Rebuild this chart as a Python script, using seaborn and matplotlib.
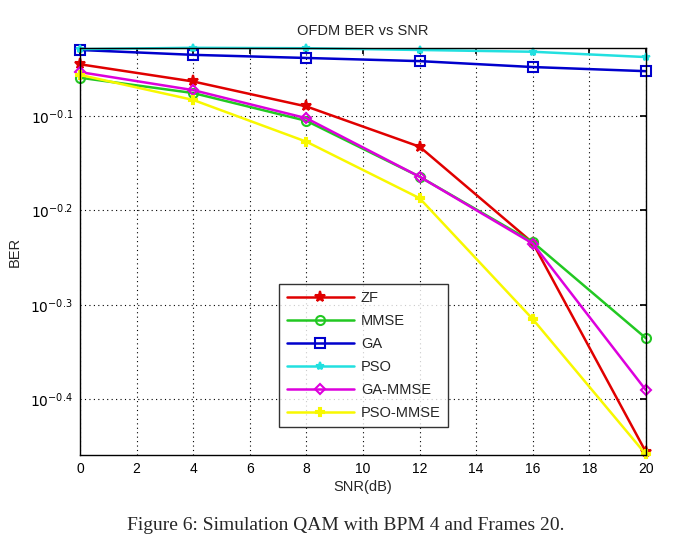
import numpy as np
import pandas as pd
import matplotlib
matplotlib.use("Agg")
import matplotlib.pyplot as plt
import seaborn as sns
from matplotlib.ticker import FixedLocator, NullLocator, FixedFormatter

snr = [0, 4, 8, 12, 16, 20]
zf = [0.901, 0.864, 0.813, 0.737, 0.583, 0.350]
mmse = [0.872, 0.840, 0.785, 0.685, 0.584, 0.462]
ga = [0.933, 0.922, 0.915, 0.908, 0.895, 0.886]
pso = [0.935, 0.938, 0.937, 0.933, 0.929, 0.917]
ga_mmse = [0.884, 0.846, 0.790, 0.685, 0.582, 0.407]
pso_mmse = [0.878, 0.826, 0.746, 0.650, 0.484, 0.348]

series = {"ZF": zf, "MMSE": mmse, "GA": ga, "PSO": pso,
          "GA-MMSE": ga_mmse, "PSO-MMSE": pso_mmse}
y_tick_exp = [-0.4, -0.3, -0.2, -0.1]
x_ticks = list(range(0, 21, 2))

rows = []
for name, vals in series.items():
    for x, v in zip(snr, vals):
        rows.append({"SNR": x, "BER": v, "Method": name})
df = pd.DataFrame(rows)

sns.set_theme(style="white")
plt.rcParams['font.family'] = ['Liberation Sans', 'DejaVu Sans']

colors = {"ZF": "#e00000", "MMSE": "#22c822", "GA": "#0000cc", "PSO": "#22e0e0",
          "GA-MMSE": "#dd00dd", "PSO-MMSE": "#f8f800"}
markers = {"ZF": "*", "MMSE": "o", "GA": "s", "PSO": "*", "GA-MMSE": "D", "PSO-MMSE": "P"}
mfc = {"ZF": "#e00000", "MMSE": "none", "GA": "none", "PSO": "#22e0e0",
       "GA-MMSE": "none", "PSO-MMSE": "#f8f800"}
msize = {"ZF": 8, "MMSE": 6.5, "GA": 7, "PSO": 6, "GA-MMSE": 5.5, "PSO-MMSE": 6}

fig = plt.figure(figsize=(6.91, 5.56), dpi=100)
ax = fig.add_axes([0.1158, 0.1817, 0.819, 0.732])

for name in series:
    sub = df[df["Method"] == name]
    sns.lineplot(data=sub, x="SNR", y="BER", ax=ax, color=colors[name],
                 marker=markers[name], markersize=msize[name],
                 markerfacecolor=mfc[name], markeredgecolor=colors[name],
                 markeredgewidth=1.5, linewidth=1.8, label=name, errorbar=None,
                 clip_on=False)

ax.set_yscale("log")
ax.set_xlim(0, 20)
ax.set_ylim(10 ** -0.459, 10 ** -0.028)
ax.yaxis.set_major_locator(FixedLocator([10 ** e for e in y_tick_exp]))
ax.yaxis.set_major_formatter(FixedFormatter([r"$10^{%g}$" % e for e in y_tick_exp]))
ax.yaxis.set_minor_locator(NullLocator())
ax.set_xticks(x_ticks)
ax.set_xticklabels([str(t) for t in x_ticks])

ax.grid(True, color="black", linestyle=(0, (1, 3)), linewidth=0.8)
for s in ax.spines.values():
    s.set_color("black")
    s.set_linewidth(1)
ax.tick_params(direction="in", length=4, top=True, right=True, labelsize=10,
               colors="black", pad=5)

ax.set_title("OFDM BER vs SNR", fontsize=10.5, pad=9)
ax.set_xlabel("SNR(dB)", fontsize=10.5, labelpad=3)
ax.set_ylabel("BER", fontsize=10.5, labelpad=6)

leg = ax.legend(loc="lower left", bbox_to_anchor=(0.352, 0.068), fontsize=10.5,
                frameon=True, fancybox=False, borderpad=0.5, labelspacing=0.62,
                handlelength=4.6, handletextpad=0.5, borderaxespad=0)
leg.get_frame().set_edgecolor("black")
leg.get_frame().set_linewidth(1)

fig.text(0.5, 0.055, "Figure 6: Simulation QAM with BPM 4 and Frames 20.",
         ha="center", va="center", fontsize=14, family=["Liberation Serif", "DejaVu Serif"])

fig.savefig("out.png", dpi=100)
